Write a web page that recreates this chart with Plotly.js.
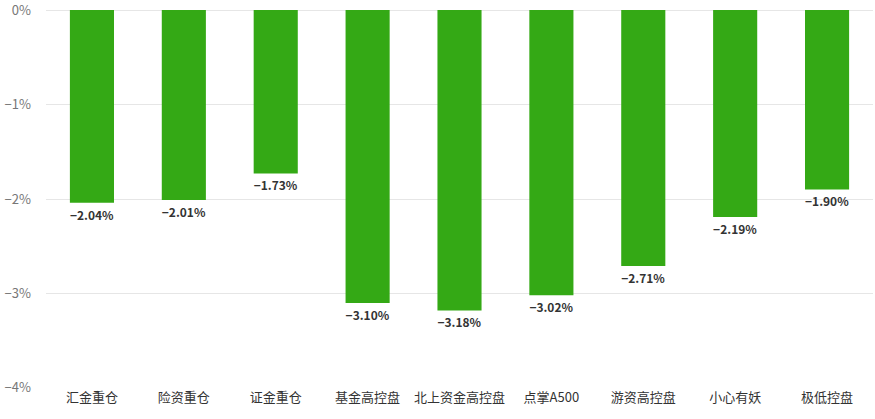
<!DOCTYPE html>
<html><head><meta charset="utf-8">
<script src="https://cdn.plot.ly/plotly-3.0.1.min.js"></script>
<style>html,body{margin:0;padding:0;background:#fff}#c{width:875px;height:419px}</style>
</head><body><div id="c"></div>
<script>
const categories = ["汇金重仓","险资重仓","证金重仓","基金高控盘","北上资金高控盘","点掌A500","游资高控盘","小心有妖","极低控盘"];
const values = [-2.04,-2.01,-1.73,-3.10,-3.18,-3.02,-2.71,-2.19,-1.90];
const yTicks = [0,-1,-2,-3,-4];

const font = '"Noto Sans CJK SC", "Noto Sans", sans-serif';
Plotly.newPlot('c', [{
  type: 'bar',
  x: categories,
  y: values,
  marker: {color: '#34a915'},
  text: values.map(v => v.toFixed(2).replace('-', '\u2212') + '%'),
  textposition: 'outside',
  textfont: {family: font, size: 13, color: '#333', weight: 600},
  cliponaxis: false,
  hoverinfo: 'none'
}], {
  width: 875, height: 419,
  margin: {l: 46, r: 2, t: 10, b: 31},
  paper_bgcolor: '#fff', plot_bgcolor: '#fff',
  bargap: 0.52,
  showlegend: false,
  font: {family: font},
  xaxis: {
    type: 'category',
    tickfont: {family: font, size: 13, color: '#333'},
    showgrid: false, zeroline: false, showline: false, ticks: ''
  },
  yaxis: {
    range: [-4.001, 0.001],
    tickvals: yTicks,
    ticktext: yTicks.map(v => (v < 0 ? '\u2212' + Math.abs(v) : v) + '%'),
    tickfont: {family: font, size: 13, color: '#777'},
    ticklabeloverflow: 'allow',
    gridcolor: '#e6e6e6', gridwidth: 1,
    zeroline: true, zerolinecolor: '#e6e6e6', zerolinewidth: 1,
    showline: false, ticks: '',
    ticklabelstandoff: 14
  }
}, {staticPlot: true});
</script></body></html>
